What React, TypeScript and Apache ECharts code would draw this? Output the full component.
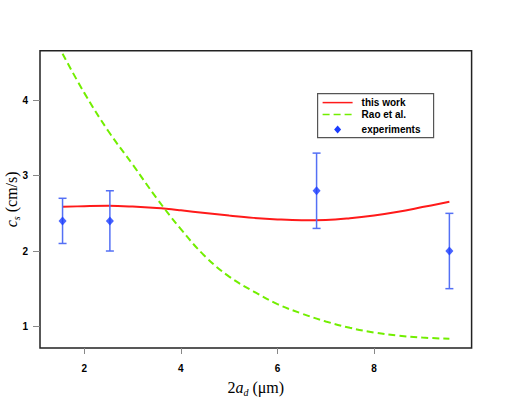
import React, { useEffect, useRef } from "react";
import * as echarts from "echarts";

const curveX = [1.55, 2.0, 2.5, 3.0, 3.5, 4.0, 4.5, 5.0, 5.5, 6.0, 6.5, 7.0, 7.5, 8.0, 8.5, 9.0, 9.56];
const thisWork = [2.587, 2.595, 2.6, 2.59, 2.57, 2.54, 2.505, 2.47, 2.44, 2.42, 2.41, 2.413, 2.435, 2.472, 2.522, 2.583, 2.653];
const raoEtAl = [4.62, 4.1, 3.59, 3.15, 2.7, 2.29, 1.93, 1.66, 1.465, 1.295, 1.17, 1.065, 0.98, 0.918, 0.876, 0.85, 0.835];

const expX = [1.55, 2.53, 6.81, 9.56];
const expY = [2.4, 2.4, 2.8, 2.0];
const expLo = [2.1, 2.0, 2.3, 1.5];
const expHi = [2.7, 2.8, 3.3, 2.5];

const xTicks = [2, 4, 6, 8];
const yTicks = [1, 2, 3, 4];
const legendLabels = ["this work", "Rao et al.", "experiments"];

export default function App() {
  const ref = useRef<HTMLDivElement>(null);
  useEffect(() => {
    if (!ref.current) return;
    const chart = echarts.init(ref.current, undefined, { renderer: "svg" });
    const sans = "Liberation Sans, Arial, sans-serif";
    const serif = "Liberation Serif, Times New Roman, serif";
    const nameRich = {
      n: { fontFamily: serif, fontSize: 16, color: "#000", lineHeight: 20, verticalAlign: "middle" },
      i: { fontFamily: serif, fontSize: 16, fontStyle: "italic", color: "#000", lineHeight: 20, verticalAlign: "middle" },
      sub: { fontFamily: serif, fontSize: 10, fontStyle: "italic", color: "#000", lineHeight: 12, verticalAlign: "bottom", padding: [8, 0, 0, 0] },
    };
    const lx = 317, ly = 93;
    chart.setOption({
      animation: false,
      backgroundColor: "#fff",
      grid: {
        left: 40, top: 50.7, right: 40.4, bottom: 51,
        containLabel: false, outerBoundsMode: "none",
        show: true, borderColor: "#222", borderWidth: 1.5, backgroundColor: "transparent",
      },
      xAxis: {
        type: "value", min: 1.083, max: 10.02,
        splitLine: { show: false },
        axisLine: { show: false },
        axisTick: { show: true, customValues: xTicks, length: 6, lineStyle: { color: "#888", width: 1 } },
        axisLabel: { customValues: xTicks, fontFamily: sans, fontWeight: "bold", fontSize: 10, color: "#000", margin: 15 },
        name: "{n|2}{i|a}{sub|d}{n| (μm)}",
        nameLocation: "middle", nameGap: 29, nameMoveOverlap: false,
        nameTextStyle: { rich: nameRich },
      },
      yAxis: {
        type: "value", min: 0.712, max: 4.66,
        splitLine: { show: false },
        axisLine: { show: false },
        axisTick: { show: true, customValues: yTicks, length: 7, lineStyle: { color: "#888", width: 1 } },
        axisLabel: { customValues: yTicks, fontFamily: sans, fontWeight: "bold", fontSize: 10, color: "#000", margin: 12 },
        name: "{i|c}{sub|s}{n| (cm/s)}",
        nameLocation: "middle", nameGap: 19, nameRotate: 90, nameMoveOverlap: false,
        nameTextStyle: { rich: nameRich },
      },
      series: [
        {
          type: "line", name: legendLabels[0], symbol: "none", smooth: 0.4,
          data: curveX.map((x, i) => [x, thisWork[i]]),
          lineStyle: { color: "#ff1a1a", width: 2 },
          z: 3,
        },
        {
          type: "line", name: legendLabels[1], symbol: "none", smooth: 0.4,
          data: curveX.map((x, i) => [x, raoEtAl[i]]),
          lineStyle: { color: "#72ee00", width: 2, type: [7, 4] },
          z: 3,
        },
        {
          type: "custom", name: "errorbars",
          data: expX.map((x, i) => [x, expLo[i], expHi[i]]),
          renderItem: (params: any, api: any) => {
            const x = api.value(0);
            const lo = api.coord([x, api.value(1)]);
            const hi = api.coord([x, api.value(2)]);
            const w = 4;
            const style = { stroke: "#5470f5", lineWidth: 1.5 };
            return {
              type: "group",
              children: [
                { type: "line", shape: { x1: lo[0], y1: lo[1], x2: hi[0], y2: hi[1] }, style },
                { type: "line", shape: { x1: lo[0] - w, y1: lo[1], x2: lo[0] + w, y2: lo[1] }, style },
                { type: "line", shape: { x1: hi[0] - w, y1: hi[1], x2: hi[0] + w, y2: hi[1] }, style },
              ],
            };
          },
          z: 4,
        },
        {
          type: "scatter", name: legendLabels[2], symbol: "diamond", symbolSize: [8, 9],
          data: expX.map((x, i) => [x, expY[i]]),
          itemStyle: { color: "#1a3cff" },
          z: 5,
        },
      ],
      graphic: [
        {
          type: "group", left: lx, top: ly,
          children: [
            { type: "rect", shape: { x: 0, y: 0, width: 116, height: 44 }, style: { fill: "#fff", stroke: "#555", lineWidth: 1.2 } },
            { type: "line", shape: { x1: 5, y1: 9, x2: 35, y2: 9 }, style: { stroke: "#ff1a1a", lineWidth: 1.5 } },
            { type: "line", shape: { x1: 5, y1: 21, x2: 35, y2: 21 }, style: { stroke: "#72ee00", lineWidth: 1.5, lineDash: [7, 4] } },
            { type: "polygon", shape: { points: [[20, 32], [23.5, 36], [20, 40], [16.5, 36]] }, style: { fill: "#1a3cff" } },
            { type: "text", x: 44, y: 9, style: { text: legendLabels[0], font: "bold 10px " + sans, fill: "#000", verticalAlign: "middle" } },
            { type: "text", x: 44, y: 21, style: { text: legendLabels[1], font: "bold 10px " + sans, fill: "#000", verticalAlign: "middle" } },
            { type: "text", x: 44, y: 36, style: { text: legendLabels[2], font: "bold 10px " + sans, fill: "#000", verticalAlign: "middle" } },
          ],
        },
      ],
    });
    return () => chart.dispose();
  }, []);
  return <div ref={ref} style={{ position: "absolute", left: 0, top: 0, width: 512, height: 399 }} />;
}
